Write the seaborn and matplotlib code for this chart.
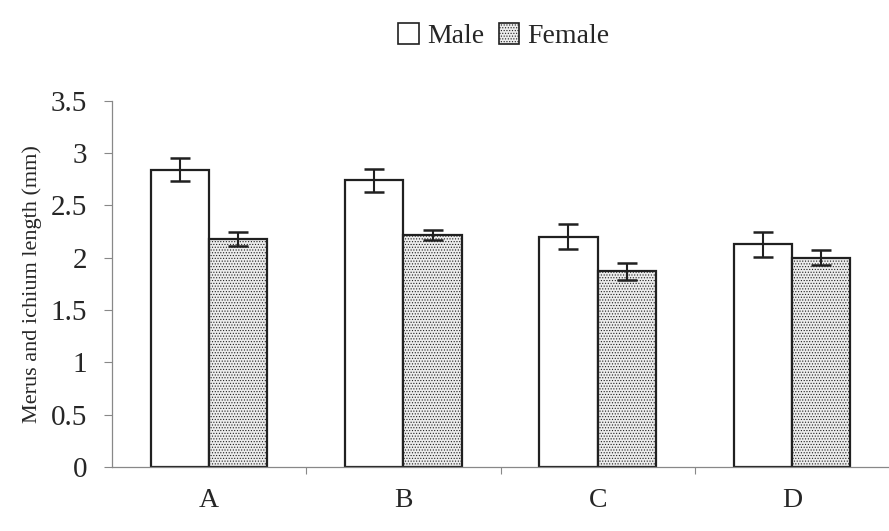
import numpy as np
import pandas as pd
import matplotlib
matplotlib.use("Agg")
import matplotlib.pyplot as plt
import seaborn as sns
from matplotlib.patches import Patch

categories = ["A", "B", "C", "D"]
male_mean = [2.84, 2.74, 2.20, 2.13]
male_err = [0.11, 0.11, 0.12, 0.12]
female_mean = [2.18, 2.22, 1.87, 2.00]
female_err = [0.07, 0.05, 0.08, 0.07]
series = ["Male", "Female"]
y_ticks = [0, 0.5, 1, 1.5, 2, 2.5, 3, 3.5]
y_tick_labels = ["0", "0.5", "1", "1.5", "2", "2.5", "3", "3.5"]

df = pd.DataFrame({
    "cat": categories * 2,
    "sex": ["Male"] * 4 + ["Female"] * 4,
    "val": male_mean + female_mean,
    "err": male_err + female_err,
})

sns.set_theme(style="white")
plt.rcParams["font.family"] = ["Liberation Serif", "DejaVu Serif"]
plt.rcParams["hatch.color"] = "#b0b0b0"
plt.rcParams["hatch.linewidth"] = 0.5

fig = plt.figure(figsize=(8.89, 5.31), dpi=100)
ax = fig.add_axes([0.126, 0.1205, 0.874, 0.6895])

female_face = "#ececec"
face = {"Male": "white", "Female": female_face}
sns.barplot(data=df, x="cat", y="val", hue="sex", order=categories,
            hue_order=series, palette=face, width=0.6, errorbar=None,
            edgecolor="#202020", linewidth=1.6, legend=False, ax=ax)

n = len(categories)
for i, p in enumerate(ax.patches[:2 * n]):
    s = series[i // n]
    j = i % n
    if s == "Female":
        p.set_hatch("......")
    x = p.get_x() + p.get_width() / 2
    row = df[(df.sex == s) & (df.cat == categories[j])].iloc[0]
    ax.errorbar(x, row["val"], yerr=row["err"],
                fmt="none", ecolor="#202020", elinewidth=1.5, capsize=7, capthick=1.8)

ax.set_ylim(0, 3.5)
ax.set_xlim(-0.5, 3.5)
ax.set_yticks(y_ticks)
ax.set_yticklabels(y_tick_labels)
ax.set_xticks(range(n))
ax.set_xticklabels(categories)
ax.set_xticks([0.5, 1.5, 2.5], minor=True)
ax.tick_params(axis="y", which="major", direction="out", length=6, width=0.8,
               color="#888888", labelsize=21, pad=12, left=True)
ax.tick_params(axis="x", which="major", length=0, labelsize=20, pad=15)
ax.tick_params(axis="x", which="minor", direction="out", length=5, width=0.8,
               color="#888888", bottom=True)
ax.set_xlabel("")
ax.set_ylabel("Merus and ichium length (mm)", fontsize=16, labelpad=6)
for side in ["top", "right"]:
    ax.spines[side].set_visible(False)
for side in ["left", "bottom"]:
    ax.spines[side].set_color("#888888")
    ax.spines[side].set_linewidth(0.9)

handles = [Patch(facecolor="white", edgecolor="#202020", linewidth=1.2),
           Patch(facecolor=female_face, edgecolor="#202020", linewidth=1.2, hatch="......")]
fig.legend(handles, series, loc="center", bbox_to_anchor=(0.567, 0.932), ncol=2,
           frameon=False, fontsize=20, handlelength=0.75, handleheight=0.75,
           handletextpad=0.3, columnspacing=0.5)

fig.savefig("out.png", dpi=100)
